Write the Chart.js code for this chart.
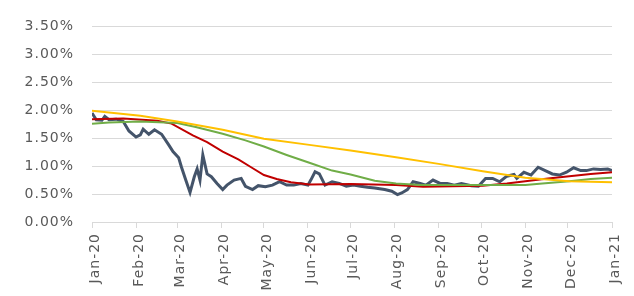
<!DOCTYPE html>
<html>
<head>
<meta charset="utf-8">
<script src="https://cdn.jsdelivr.net/npm/chart.js@4.4.1/dist/chart.umd.min.js"></script>
<style>
  html, body { margin: 0; padding: 0; background: #ffffff; }
  #wrap { width: 634px; height: 296px; }
</style>
</head>
<body>
<div id="wrap"><canvas id="rateChart"></canvas></div>
<script>
// Month ticks on the x axis
const monthStarts = ['2020-01-01', '2020-02-01', '2020-03-01', '2020-04-01', '2020-05-01', '2020-06-01', '2020-07-01',
    '2020-08-01', '2020-09-01', '2020-10-01', '2020-11-01', '2020-12-01', '2021-01-01'];
const monthLabels = ['Jan-20', 'Feb-20', 'Mar-20', 'Apr-20', 'May-20', 'Jun-20', 'Jul-20',
    'Aug-20', 'Sep-20', 'Oct-20', 'Nov-20', 'Dec-20', 'Jan-21'];

// Daily rate (dark line)
const dailyDates = ['2020-01-01', '2020-01-04', '2020-01-08', '2020-01-10', '2020-01-13', '2020-01-18', '2020-01-23', '2020-01-27',
    '2020-02-01', '2020-02-04', '2020-02-06', '2020-02-10', '2020-02-14', '2020-02-19', '2020-02-24', '2020-02-27',
    '2020-03-02', '2020-03-04', '2020-03-07', '2020-03-10', '2020-03-13', '2020-03-15', '2020-03-17', '2020-03-19',
    '2020-03-22', '2020-03-25', '2020-03-29', '2020-04-02', '2020-04-05', '2020-04-10', '2020-04-15', '2020-04-18',
    '2020-04-23', '2020-04-27', '2020-05-02', '2020-05-07', '2020-05-12', '2020-05-17', '2020-05-22', '2020-05-27',
    '2020-06-01', '2020-06-03', '2020-06-06', '2020-06-09', '2020-06-13', '2020-06-18', '2020-06-23', '2020-06-28',
    '2020-07-03', '2020-07-08', '2020-07-13', '2020-07-18', '2020-07-25', '2020-07-30', '2020-08-03', '2020-08-06',
    '2020-08-10', '2020-08-14', '2020-08-19', '2020-08-23', '2020-08-28', '2020-09-02', '2020-09-07', '2020-09-12',
    '2020-09-17', '2020-09-24', '2020-09-29', '2020-10-04', '2020-10-09', '2020-10-14', '2020-10-19', '2020-10-24',
    '2020-10-26', '2020-10-31', '2020-11-05', '2020-11-10', '2020-11-15', '2020-11-20', '2020-11-25', '2020-11-30',
    '2020-12-05', '2020-12-10', '2020-12-14', '2020-12-19', '2020-12-24', '2020-12-29', '2021-01-01'];
const dailyValues = [1.95, 1.83, 1.82, 1.89, 1.83, 1.84, 1.80, 1.63,
    1.52, 1.56, 1.66, 1.57, 1.65, 1.57, 1.38, 1.26,
    1.15, 0.98, 0.75, 0.53, 0.81, 0.95, 0.75, 1.20,
    0.86, 0.81, 0.69, 0.58, 0.66, 0.75, 0.78, 0.64,
    0.58, 0.65, 0.63, 0.66, 0.72, 0.66, 0.66, 0.69,
    0.66, 0.75, 0.90, 0.86, 0.66, 0.72, 0.69, 0.64,
    0.66, 0.64, 0.62, 0.61, 0.58, 0.55, 0.49, 0.52,
    0.58, 0.72, 0.69, 0.66, 0.75, 0.69, 0.69, 0.66,
    0.69, 0.65, 0.64, 0.78, 0.78, 0.72, 0.82, 0.85,
    0.78, 0.89, 0.84, 0.98, 0.92, 0.86, 0.84, 0.89,
    0.97, 0.92, 0.92, 0.95, 0.94, 0.95, 0.92];

// Red line
const redDates = ['2020-01-01', '2020-01-23', '2020-02-16', '2020-02-26', '2020-03-12', '2020-03-22', '2020-04-02', '2020-04-13',
    '2020-04-22', '2020-05-01', '2020-05-10', '2020-05-20', '2020-06-02', '2020-07-01', '2020-08-02', '2020-08-21',
    '2020-10-02', '2020-10-19', '2020-11-01', '2020-11-17', '2020-12-02', '2020-12-17', '2021-01-01'];
const redValues = [1.84, 1.85, 1.81, 1.76, 1.55, 1.43, 1.26, 1.12,
    0.98, 0.84, 0.77, 0.71, 0.67, 0.68, 0.66, 0.63,
    0.65, 0.69, 0.73, 0.78, 0.82, 0.86, 0.89];

// Green line
const greenDates = ['2020-01-01', '2020-01-13', '2020-02-04', '2020-03-01', '2020-03-14', '2020-04-02', '2020-04-18', '2020-05-01',
    '2020-05-17', '2020-06-02', '2020-06-18', '2020-07-01', '2020-07-18', '2020-08-02', '2020-08-19', '2020-11-01',
    '2020-11-13', '2020-12-02', '2020-12-17', '2021-01-01'];
const greenValues = [1.76, 1.78, 1.80, 1.77, 1.70, 1.58, 1.46, 1.35,
    1.20, 1.06, 0.92, 0.85, 0.74, 0.69, 0.66, 0.66,
    0.69, 0.73, 0.77, 0.79];

// Yellow line
const yellowDates = ['2020-01-01', '2020-02-04', '2020-03-01', '2020-04-02', '2020-05-01', '2020-06-02', '2020-07-01',
    '2020-08-02', '2020-09-01', '2020-10-02', '2020-11-01', '2020-12-02', '2021-01-01'];
const yellowValues = [1.99, 1.90, 1.80, 1.65, 1.49, 1.38, 1.28, 1.16, 1.04, 0.91, 0.79, 0.73, 0.71];

const DAY = 86400000;
const origin = Date.parse('2020-01-01');
const toDay = d => (Date.parse(d) - origin) / DAY;
const toPoints = (dates, values) => dates.map((d, i) => ({ x: toDay(d), y: values[i] }));
const tickDays = monthStarts.map(toDay);

const tickColor = '#595959';
const gridColor = '#d9d9d9';
const tickFont = { family: 'DejaVu Sans', size: 14 };

function lineSet(data, color, width) {
    return {
        data: data,
        borderColor: color,
        backgroundColor: color,
        borderWidth: width,
        pointRadius: 0,
        fill: false,
        tension: 0
    };
}

// the original labels are a wide font, spread the letters a little
const spacing = {
    id: 'spacing',
    beforeDraw: chart => { chart.ctx.letterSpacing = '1px'; }
};

const ctx = document.getElementById('rateChart').getContext('2d');
new Chart(ctx, {
    type: 'line',
    data: {
        // first dataset is drawn on top, so the daily line goes last
        datasets: [
            lineSet(toPoints(yellowDates, yellowValues), '#ffc000', 2),
            lineSet(toPoints(greenDates, greenValues), '#70ad47', 2),
            lineSet(toPoints(redDates, redValues), '#c00000', 2),
            lineSet(toPoints(dailyDates, dailyValues), '#44546a', 3)
        ]
    },
    plugins: [spacing],
    options: {
        responsive: true,
        maintainAspectRatio: false,
        animation: false,
        layout: { padding: { top: 14, right: 22, bottom: 0, left: 0 } },
        scales: {
            x: {
                type: 'linear',
                min: 0,
                max: toDay('2021-01-01'),
                afterBuildTicks: scale => { scale.ticks = tickDays.map(v => ({ value: v })); },
                afterFit: scale => { scale.height = 74; },
                ticks: {
                    color: tickColor,
                    font: tickFont,
                    minRotation: 90,
                    maxRotation: 90,
                    autoSkip: false,
                    padding: 5,
                    labelOffset: 3,
                    callback: value => monthLabels[tickDays.indexOf(value)]
                },
                grid: { drawOnChartArea: false, drawTicks: true, tickLength: 6, color: gridColor },
                border: { color: gridColor }
            },
            y: {
                min: 0,
                max: 3.5,
                afterFit: scale => { scale.width = 92; },
                ticks: {
                    stepSize: 0.5,
                    color: tickColor,
                    font: tickFont,
                    padding: 18,
                    callback: value => value.toFixed(2) + '%'
                },
                grid: { color: gridColor, drawTicks: false },
                border: { display: false }
            }
        },
        plugins: {
            legend: { display: false },
            tooltip: { enabled: false }
        }
    }
});
</script>
</body>
</html>
